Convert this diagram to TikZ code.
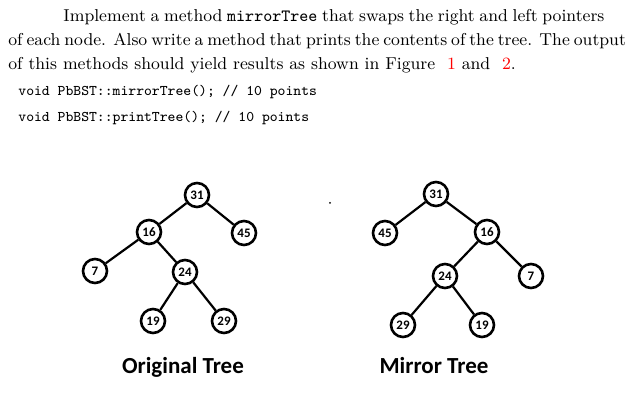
\documentclass[tikz,border=0pt]{standalone}
\usepackage{fontspec}
\newfontfamily\lab{Carlito}
\begin{document}
\begin{tikzpicture}[x=0.5pt,y=-0.5pt,
  tn/.style={circle,draw,line width=1.3pt,minimum size=12pt,inner sep=0pt,font=\lab\bfseries\fontsize{6.5}{7}\selectfont},
  ed/.style={line width=1.1pt},
  txt/.style={anchor=base west,inner sep=0pt,font=\fontsize{8.6}{10}\selectfont},
  codetxt/.style={anchor=base west,inner sep=0pt,font=\ttfamily\fontsize{7.4}{9}\selectfont},
  captxt/.style={font=\lab\bfseries\fontsize{11.5}{13}\selectfont}]
\useasboundingbox (0,0) rectangle (633,400);
\node[txt] (l1) at (63,22) {\makebox[270.5pt][s]{Implement a method \texttt{mirrorTree} that swaps the right and left pointers}};
\node[txt] (l2) at (8,46) {\makebox[298pt][s]{of each node. Also write a method that prints the contents of the tree. The output}};
\node[txt] (l3) at (8,70) {of this methods should yield results as shown in Figure \ \textcolor{red}{1} and \ \textcolor{red}{2}.};
\node[codetxt] (c1) at (18,96) {void PbBST::mirrorTree(); // 10 points};
\node[codetxt] (c2) at (18,122) {void PbBST::printTree(); // 10 points};
% original
\node[tn] (a31) at (197,195) {31};
\node[tn] (a16) at (149,232) {16};
\node[tn] (a45) at (244,233) {45};
\node[tn] (a7) at (95,271) {7};
\node[tn] (a24) at (185,272) {24};
\node[tn] (a19) at (153,321) {19};
\node[tn] (a29) at (224,321) {29};
\draw[ed] (a31)--(a16) (a31)--(a45) (a16)--(a7) (a16)--(a24) (a24)--(a19) (a24)--(a29);
\node[captxt] (ca) at (183,367) {Original Tree};
% mirror
\node[tn] (b31) at (436,194) {31};
\node[tn] (b45) at (385,233) {45};
\node[tn] (b16) at (487,232) {16};
\node[tn] (b24) at (445,276) {24};
\node[tn] (b7) at (531,276) {7};
\node[tn] (b29) at (403,325) {29};
\node[tn] (b19) at (482,325) {19};
\draw[ed] (b31)--(b45) (b31)--(b16) (b16)--(b24) (b16)--(b7) (b24)--(b29) (b24)--(b19);
\node[captxt] (cb) at (434,366) {Mirror Tree};
\fill (330,203) circle (0.5pt);
\end{tikzpicture}
\end{document}
